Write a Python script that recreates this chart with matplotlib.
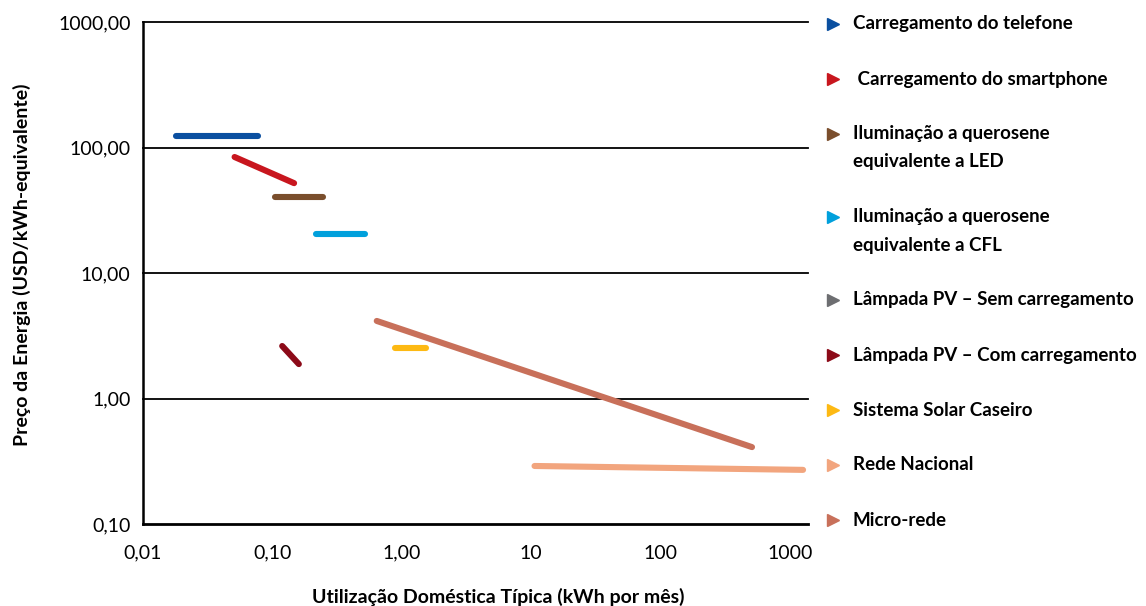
import matplotlib.pyplot as plt
from matplotlib.lines import Line2D
from matplotlib.ticker import FixedLocator, NullLocator

plt.rcParams['font.family'] = ['Lato', 'DejaVu Sans']

# Legend entries (in order) and colours
labels = ['Carregamento do telefone',
          ' Carregamento do smartphone',
          'Iluminação a querosene\nequivalente a LED',
          'Iluminação a querosene\nequivalente a CFL',
          'Lâmpada PV – Sem carregamento',
          'Lâmpada PV – Com carregamento',
          'Sistema Solar Caseiro',
          'Rede Nacional',
          'Micro-rede']
colors = ['#0A4FA0', '#C8161E', '#7A4E2C', '#00A0DC', '#6D6E71',
          '#8C0A18', '#FDB913', '#F2A57E', '#C8705A']

# Segment end points per series: usage (kWh/month) and price (USD/kWh-eq)
x_start = [0.018, 0.051, 0.105, 0.217, None, 0.119, 0.886, 10.6, 0.64]
x_end = [0.078, 0.147, 0.246, 0.52, None, 0.16, 1.54, 1260, 508]
y_start = [123, 84, 40, 20.5, None, 2.62, 2.53, 0.29, 4.15]
y_end = [123, 52, 40, 20.5, None, 1.88, 2.53, 0.27, 0.41]

x_ticks = [0.01, 0.1, 1, 10, 100, 1000]
x_ticklabels = ['0,01', '0,10', '1,00', '10', '100', '1000']
y_ticks = [0.1, 1, 10, 100, 1000]
y_ticklabels = ['0,10', '1,00', '10,00', '100,00', '1000,00']

fig = plt.figure(figsize=(11.46, 6.06), dpi=100)
ax = fig.add_axes([0.1248, 0.1353, 0.5803, 0.8284])

for i in range(len(labels)):
    if x_start[i] is None:
        continue
    ax.plot([x_start[i], x_end[i]], [y_start[i], y_end[i]], color=colors[i],
            lw=4.4, solid_capstyle='round', zorder=3)

ax.set_xscale('log')
ax.set_yscale('log')
ax.set_xlim(0.01, 1377)
ax.set_ylim(0.1, 1000)

ax.xaxis.set_major_locator(FixedLocator(x_ticks))
ax.xaxis.set_minor_locator(NullLocator())
ax.set_xticklabels(x_ticklabels)
ax.yaxis.set_major_locator(FixedLocator(y_ticks))
ax.yaxis.set_minor_locator(NullLocator())
ax.set_yticklabels(y_ticklabels)
ax.tick_params(length=0, labelsize=14, pad=15)
ax.tick_params(axis='y', pad=9)

for y in y_ticks[1:]:
    ax.axhline(y, color='black', lw=1.3, zorder=1, clip_on=False)

ax.spines['top'].set_visible(False)
ax.spines['right'].set_visible(False)
ax.spines['left'].set_linewidth(1.8)
ax.spines['bottom'].set_linewidth(2.0)

fig.text(498 / 1146, 1 - 597 / 606, 'Utilização Doméstica Típica (kWh por mês)',
         ha='center', va='center', fontsize=14, fontweight='bold')
fig.text(22 / 1146, 1 - 265 / 606, 'Preço da Energia (USD/kWh-equivalente)',
         ha='center', va='center', rotation=90, fontsize=14, fontweight='bold')

# legend drawn by hand on the right
row_y = [24, 79, 134, 217, 300, 355, 410, 465, 520]
for i, lab in enumerate(labels):
    yf = 1 - row_y[i] / 606
    fig.add_artist(Line2D([833 / 1146], [yf], marker='>', markersize=8,
                          color=colors[i], lw=0, transform=fig.transFigure))
    for k, part in enumerate(lab.split('\n')):
        fig.text(853 / 1146, 1 - (row_y[i] + 28 * k) / 606, part, ha='left',
                 va='center', fontsize=13.5, fontweight='bold')

fig.savefig('out.png', dpi=100)
